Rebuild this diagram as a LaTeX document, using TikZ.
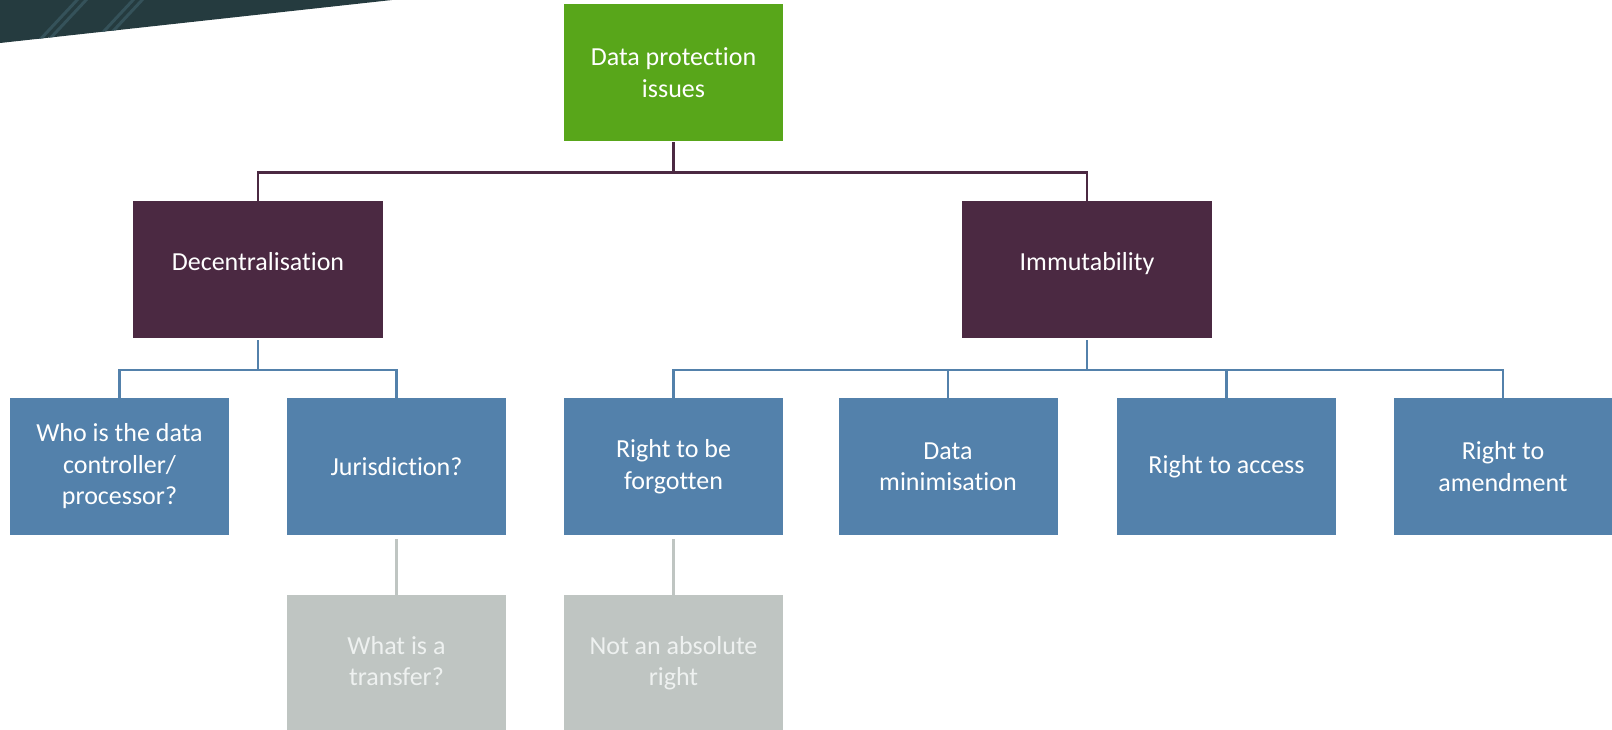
\documentclass[tikz,border=0pt]{standalone}
\usepackage{fontspec}
\setmainfont[RawFeature={-liga;-clig;-calt}]{Carlito}
\usepackage{xcolor}
\usepackage{tikz}
\usetikzlibrary{positioning}
\definecolor{issuegreen}{HTML}{58A61A}
\definecolor{issueplum}{HTML}{4B2942}
\definecolor{issueblue}{HTML}{5381AB}
\definecolor{issuegray}{HTML}{BFC5C2}
\definecolor{issuegraytext}{HTML}{EEF1F0}
\definecolor{cornerteal}{HTML}{253B3F}
\definecolor{cornerstripe}{HTML}{35525A}
\newcommand{\liftup}[2]{\raisebox{#1}{\begin{tabular}{@{}c@{}}#2\end{tabular}}}

\begin{document}
\begin{tikzpicture}[x=1pt, y=-1pt,
		box/.style={rectangle, inner sep=0pt, minimum width=219pt, minimum height=137pt, align=center, text=white, font=\fontsize{26}{31.5}\selectfont},
		rootbox/.style={box, fill=issuegreen},
		branchbox/.style={box, fill=issueplum, minimum width=250pt},
		leafbox/.style={box, fill=issueblue},
		notebox/.style={box, fill=issuegray, text=issuegraytext},
		plumwire/.style={draw=issueplum, line width=2.6pt},
		bluewire/.style={draw=issueblue, line width=2.2pt},
		graywire/.style={draw=issuegray, line width=2.2pt}]
			\useasboundingbox (0,0) rectangle (1612,729);
			% Corner band:
			\begin{scope}
				\clip (0,0) -- (392,0) -- (0,43) -- cycle;
				\fill[cornerteal] (0,0) rectangle (392,43);
				\draw[cornerstripe, line width=3pt] (36,44) -- (78,-1) (45,44) -- (87,-1);
				\draw[cornerstripe, line width=3pt] (92,44) -- (134,-1) (101,44) -- (143,-1);
			\end{scope}
			% Paths, nodes and wires:
			\node[rootbox] (issues) at (673.5, 72.5) {Data protection\\issues};
			\node[branchbox] (decentral) at (258, 269.5) {\liftup{20pt}{Decentralisation}};
			\node[branchbox] (immut) at (1087, 269.5) {\liftup{20pt}{Immutability}};
			\node[leafbox] (controller) at (119.5, 466.5) {Who is the data\\controller/\\processor?};
			\node[leafbox] (jurisdiction) at (396.5, 466.5) {Jurisdiction?};
			\node[leafbox] (forgotten) at (673.5, 466.5) {Right to be\\forgotten};
			\node[leafbox] (minimisation) at (948, 466.5) {Data\\minimisation};
			\node[leafbox] (access) at (1226.5, 466.5) {Right to access};
			\node[leafbox] (amendment) at (1503, 466.5) {Right to\\amendment};
			\node[notebox, below=60pt of jurisdiction] (transfer) {\liftup{9pt}{What is a\\transfer?}};
			\node[notebox, below=60pt of forgotten] (absolute) {\liftup{9pt}{Not an absolute\\right}};
			\draw[plumwire] ([yshift=-1pt]issues.south) -- ++(0,30) coordinate (trunk);
			\draw[plumwire] (decentral.north) |- (trunk) -| (immut.north);
			\draw[bluewire] ([yshift=-2pt]decentral.south) -- ++(0,30) coordinate (lefthub);
			\draw[bluewire] (controller.north) |- (lefthub) -| (jurisdiction.north);
			\draw[bluewire] ([yshift=-2pt]immut.south) -- ++(0,30) coordinate (righthub);
			\draw[bluewire] (forgotten.north) |- (righthub) -| (amendment.north);
			\draw[bluewire] (minimisation.north) -- (minimisation.north |- righthub);
			\draw[bluewire] (access.north) -- (access.north |- righthub);
			\draw[graywire] ([yshift=-4pt]jurisdiction.south) -- (transfer.north);
			\draw[graywire] ([yshift=-4pt]forgotten.south) -- (absolute.north);
		\end{tikzpicture}
\end{document}
